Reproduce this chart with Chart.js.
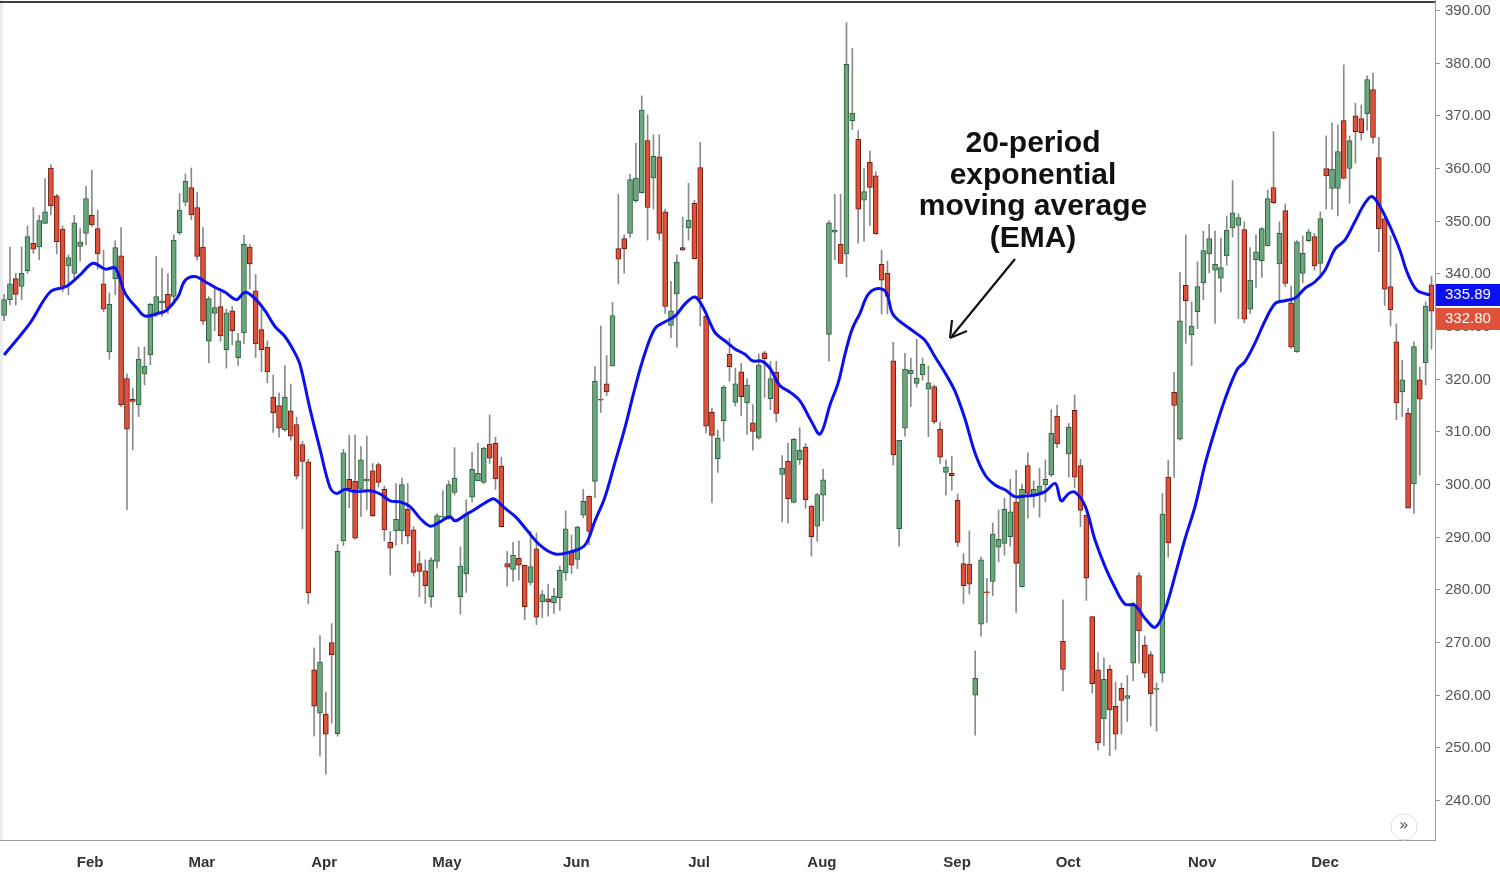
<!DOCTYPE html>
<html><head><meta charset="utf-8">
<script src="https://cdn.jsdelivr.net/npm/chart.js@4/dist/chart.umd.min.js"></script>
<style>html,body{margin:0;padding:0;background:#fff}#wrap{width:1500px;height:874px}</style>
</head><body><div id="wrap"><canvas id="c"></canvas></div>
<script>
const opens=[332,335,339,337.5,340.5,345.7,345,349.5,360,354.7,348.4,341.4,340,345.1,347.6,351,348.5,338,325.1,339,343.3,320,316.1,315,320.9,324.5,332.4,334.4,336,335.6,347.7,
353.5,356.3,352.5,345,327.1,332.4,333.7,325.5,332.9,324,328.7,345,336.7,329.3,326,316.5,314.9,310.3,313.9,311.3,307.5,304.2,264.7,256.5,256.3,269.9,252.6,289.2,300.9,300.5,
299,300.6,302.5,303.7,299,288.9,291.1,291.1,295.2,291.3,284.9,283.5,278.6,285.3,293.7,293.5,298.4,278.6,282.9,297.5,300.6,300.3,307.6,307.7,303.4,284.9,283.8,285.9,284.6,281.3,
287.7,277.6,278.2,277.4,278.4,283.1,287.1,285.7,294.1,297.7,300.5,316.1,319,322.4,344.7,346.6,347.6,353.8,355.3,365.2,358.1,362.1,351.7,330.1,336.1,344.9,348.6,353.3,360.1,331.9,
313.6,304.8,312,324.6,315.5,321.3,315.4,311.6,308.7,324.9,316.2,321.2,301.8,304.3,296.5,304.6,307,295.8,292,297.9,328.4,347.8,345.5,343.7,369,365.5,353.9,361.1,358.5,341.7,340,323.4,291.5,
310.6,320.9,319.1,320.7,318,318.5,310.4,302.2,302,296.9,284.9,284.8,259.9,273.4,279.5,281.5,288,288.7,290,296.6,280.5,303.5,297.7,298.4,299.8,301.7,312.9,270.1,305.7,
314,303.5,294.1,274.8,264.7,255.4,264.8,257.8,261.2,259.3,266,282.6,269.4,267.6,261,264.1,301.3,317.4,308.5,337.7,328.3,332.7,338.2,343.7,340.6,339.1,343.3,348.6,349.1,
348.3,333.2,342.6,342.4,345.2,356.3,341.8,351.9,334.4,325.1,340,346.2,347,341.9,359.9,356.1,356.1,369,359.9,369.9,369.4,370.3,374.9,362,350.4,337.5,327,317.5,313.4,300,319.8,323,337.8];
const highs=[336,345,340,345,349,352.5,351,358,360.6,355,349,343.5,351,348.5,356.5,359.6,352,344.4,336.3,346.2,348.7,320.9,318.2,326,326,334.3,343.2,341,339.9,347.3,355.2,
358.9,360,355.4,348.7,335.6,337.1,336.4,333.2,333.7,328.6,347.2,345.5,339.8,333.2,327.2,320.7,317.3,322.5,319,312.7,308.1,304.7,268.9,271.2,260.5,273.5,288.5,306.6,309.3,309.3,
307.1,309.1,303.9,304,299.6,291,300.1,301.1,300.1,291.9,287.2,285.6,286,294.4,298.7,300.6,306.9,288.1,297,306,307.7,307,313.1,308.9,305.1,287.2,288.9,289.2,284.6,291,
290.7,279.8,281,280.2,284.4,294.9,290.3,292,299,297.7,322.3,330,324.4,334.5,355,347.3,358.8,364.7,373.7,370.1,366.3,366.3,352.2,338.5,343.5,350.7,357.1,353.9,364.9,331.9,
314.4,310.2,318.7,327.7,322,322.9,320,315.1,324.7,325.2,323.3,323.3,305.4,307.7,308.7,310.7,307.7,295.9,298.2,302.8,350,355,355,387.6,382.7,367.1,359.9,363.2,359.3,344.4,342.3,326.9,308.3,
324.8,323.9,327.5,323.9,322.4,318.8,311.8,304.6,305.3,298.1,286.8,291.1,268.3,286.1,282.1,292.6,295.1,297.3,300.9,302.6,300,305.9,300.6,303,304.6,314.1,315,278,311.5,
316.9,304.7,294.1,274.8,268,267,265.6,262.4,262.2,263.6,277.6,283.2,271.1,268.2,262.2,298.2,304.5,321.2,340.2,347.3,334.6,342.2,348,349.3,348,346.7,350.9,357.6,351.3,
349.8,344.9,347.3,348.7,355.8,366.9,349.8,353.2,337.6,346.2,347.1,348.4,347.6,351.7,366.1,368.6,368.2,379.6,366.1,372.3,372,377.5,378,365.8,350.4,347.1,330.4,323.5,314.4,327,322.2,334.6,339.4];
const lows=[331,334,334,335,340,343.8,342.6,349.4,351.1,343.7,336.5,335.9,339,342.3,345.4,348.9,340.8,332.7,323.7,335.9,314.7,295.1,306.5,312.8,318.8,322.6,331.8,331.8,332.4,334.3,347.3,
352.8,350.2,342.5,330.3,323,329.1,327.1,322,326.4,322.5,326.6,337.1,324,321.3,319.2,309.8,308.9,310,308.3,300.9,291.5,277.3,252.1,248.3,244.9,254.6,252.1,288.3,295.5,289.5,
293.8,295.1,293.8,299.4,289.2,282.7,288.4,288.6,288.6,282.5,278.6,277.3,276.6,284,293.5,293.3,297.9,275.3,279.4,296.6,300.6,300.1,303.9,299,291.9,280.6,281.5,281.8,274.2,280.8,
273.3,274.6,274.9,275.4,276,281.7,283,283.9,293.6,288.5,297.4,313.6,316.8,322.4,338,340,346.8,353.5,355.2,346.3,352.2,346.3,332.4,327.8,326,344.4,346.3,342.7,330,309.7,
296.4,302.2,308.1,319.5,314.8,312.9,309.4,306.4,308.5,316.4,314.1,311.8,292.8,292.6,296.4,303.7,295.4,286.3,289.1,293,323.3,342.6,341.9,339.3,367.3,345.7,346.1,349.1,347.4,332.3,332.3,303.6,288.2,
309.1,314.7,318.4,319.7,309,311.4,303.9,297.9,298.8,288.1,277.3,279.1,252.3,271.1,273.7,278.8,285.2,286.5,288.2,275.6,280.4,293.5,295.6,293.7,296.6,301.4,306.9,260.7,301.3,
299.3,291.9,277.9,260.3,249.5,250.3,248.4,249.6,252.5,254.9,262.6,266,263.2,254,253.1,262.4,286.1,301.3,308.3,326.7,322.5,329.5,335,340.1,330.5,336.4,341.5,346.9,331.4,
330.6,332.4,337.3,339.2,345.2,353.2,334.6,337.5,325.8,325,338.2,346,340.6,339.5,352.2,352.2,350.9,358,353.3,360.9,365.3,367.2,364.7,344.1,333.9,330,312.2,312.8,295.4,294.4,301.7,318.8,325.6];
const closes=[335,338,336,340,347,344.6,350,351.7,352.8,346,337.5,343,349.6,345.9,354.2,349.2,343.7,333.2,334.1,344.9,315,310.4,315.7,323.7,322.4,334.1,335.6,334.8,333.4,346.3,352,
357.5,351.1,343.2,330.9,335.2,333.5,328.1,332.5,329.1,327.2,345.5,341.8,326.6,325.5,321.3,313.5,310.6,316.5,309.1,301.5,304.3,279.3,257.8,266.2,252.5,267.6,287.2,305.9,299.1,289.7,
304.6,300.9,294,300.3,291.3,287.8,293.3,299.9,290.1,283.2,283.4,280.7,285.6,294,293.9,299.9,301.1,284.4,294,302.8,302,306.8,304.9,301,291.9,284.2,286.5,284.6,276.7,284.3,
274.7,279,277.6,278.7,283.6,291.5,284.6,291.8,296.7,291,319.5,315.9,317.5,332,342.7,344.7,357.8,358.1,371,352.5,362.2,347.6,333.7,332.9,342.1,344.4,350.1,342.8,335.2,311,
309.2,308.7,318.4,322.3,319,316.6,318.8,310,322.6,323.8,320,313.4,303,297.2,308.5,306.4,297,290,298,300.8,349.6,348.2,341.9,379.7,370.4,352.2,355.5,356.3,347.5,338.7,335.6,305.5,308.3,
321.8,321.6,320.1,322.7,319.2,311.8,305.1,303.2,301.6,288.9,280.7,281,263.1,285.6,279.3,290.5,289.5,295.2,294.7,284.9,299,298.2,299,299.6,300.9,309.6,307.6,264.8,310.8,
301.3,295,282.1,262.1,250.9,262.9,257.1,252.5,258.9,259.8,276.9,272.1,264.1,260.2,261.2,294.3,288.8,314.9,331,334.8,330,337.5,344.3,346.6,341.7,341.1,348.2,351.5,350.6,
331.3,338.7,344.1,348.5,354.2,353.4,347.6,338.1,326,346,343.8,347.9,341.4,350.4,358.5,359.8,363.1,358,365.2,366.9,366.7,376.8,365.8,348.5,337,333.1,315.4,319.8,295.4,326.1,316.1,333.8,332.8];
const emaIdx=[0,4.4,7.9,10.6,13,15.2,17.3,19,20.7,22.7,24.1,26.7,27.7,29.7,30.9,32.6,34.4,36.1,37.8,39.7,41.2,42.9,44.6,46.3,48,49.7,50.6,52.3,54,55.7,56.8,58.3,59.7,60.9,62.6,64.3,66,67.7,69.4,71.1,72.8,74.5,76.2,77.1,78.8,80.5,83.1,83.9,85.6,87.4,89.1,91.6,94.2,96.8,99.3,101,102.7,104.4,106.2,107.9,109.6,111.3,113,114.7,116.4,118.1,119.5,121.5,123.2,125,126.7,127.9,129.6,130.9,132.6,134.4,136.1,137.8,139.5,141.2,142.6,143.8,145,146.3,147.7,149.4,150.8,152,155.2,157.4,159.1,160.9,162.6,164.3,166,167.7,169.4,171.1,172.8,174.5,176.2,177.9,179.7,180.7,182,183.1,184.8,186.5,188.2,189.9,191.6,193.3,195,196.8,198.5,200.2,201.9,203.6,205.3,207,208.7,210.8,212.1,213.8,215.6,217.3,219,220.7,222.4,224.1,225.8,227.5,229.2,230.9,232.6,233.8,235.2,236.9,238.6,239.8,241.5,243.8];
const emaVal=[324.5,330.5,336.5,337.5,339.7,341.9,340.8,341,336.2,333.4,331.9,332.5,332.9,335.5,338.6,339.4,338.4,337.3,336.4,335,336.4,335.2,332.9,329.9,328,324.9,322.6,314.2,306.6,299.4,298.2,299,298.6,298.6,298.7,298.1,296.8,296.6,295.7,293.5,292,292.8,293.8,293,294.1,295.2,297,297.1,295.4,293.8,291.6,288.4,286.7,287.1,288.4,293,297.5,304,311,318.5,325,329.6,330.8,331.9,334.2,335.5,333.5,328.8,327.2,325.6,324.6,323.4,323.3,322,318.7,317.4,315.7,312.3,309.5,315.1,319.3,324.9,329.5,332.4,336,337.1,336.4,332.1,329.2,327.3,324.2,321,317.5,312.2,305.8,301.7,299.8,298.9,297.6,297.7,297.9,298.5,300.1,296.8,298.2,298.4,295.8,289.3,284.3,280.3,277.2,277,274.5,272.8,276.3,282.8,289.7,295.8,303.8,310.3,316.1,321.8,323.2,326.7,331.1,334.3,334.8,335.3,337.2,338.4,340.6,344.6,346.3,349.8,353.3,354.6,352.7,348.9,344.4,340.3,336.8,335.9];
const monthLabels=['Feb','Mar','Apr','May','Jun','Jul','Aug','Sep','Oct','Nov','Dec'];
const monthPos=[14.7,33.8,54.7,75.7,97.8,118.8,139.8,162.9,181.9,204.8,225.8];
const yTicks=[240,250,260,270,280,290,300,310,320,330,340,350,360,370,380,390];
const emaLast=335.89, closeLast=332.80;
const annotation=['20-period','exponential','moving average','(EMA)'];

const UP='#6aa77c', UPB='#2e5f3c', DN='#e0513a', DNB='#6e1c10';
const bodies=opens.map((o,i)=>({x:i,y:[o,closes[i]]}));
const wicks=highs.map((h,i)=>({x:i,y:[lows[i],h]}));
const up=opens.map((o,i)=>closes[i]>=o);
const ema=emaIdx.map((x,i)=>({x:x,y:emaVal[i]}));
const FONT='"Liberation Sans", Arial, sans-serif';

const deco={id:'deco',
 beforeDraw(ch){const c=ch.ctx;c.save();c.fillStyle='#e9ecf0';c.fillRect(0,0,3,ch.chartArea.bottom);c.restore();},
 afterDraw(ch){
  const c=ch.ctx,a=ch.chartArea,y=ch.scales.y;c.save();
  c.strokeStyle='#000';c.lineWidth=1.5;c.beginPath();c.moveTo(0,2);c.lineTo(a.right,2);c.stroke();
  // y tick marks and labels
  c.strokeStyle='#999';c.lineWidth=1;c.font='15px '+FONT;c.fillStyle='#555';c.textAlign='left';c.textBaseline='middle';
  yTicks.forEach(v=>{const p=Math.round(y.getPixelForValue(v))+0.5;c.beginPath();c.moveTo(a.right,p);c.lineTo(a.right+5,p);c.stroke();c.fillText(v.toFixed(2),a.right+10,p);});
  c.font='bold 30px '+FONT;c.fillStyle='#111';c.textAlign='center';
  annotation.forEach((t,i)=>c.fillText(t,1033,144+i*31.5));
  c.strokeStyle='#111';c.lineWidth=2.2;c.beginPath();c.moveTo(1015,259);c.lineTo(952,336);c.stroke();
  c.beginPath();c.moveTo(950,338);c.lineTo(952,320);c.moveTo(950,338);c.lineTo(967,331);c.stroke();
  const yb=y.getPixelForValue(emaLast);
  c.fillStyle='#0a10f0';c.fillRect(a.right+1,yb-11,64,22);
  c.fillStyle='#e0513a';c.fillRect(a.right+1,yb+13,64,22);
  c.font='15px '+FONT;c.fillStyle='#fff';c.textAlign='left';
  c.fillText(emaLast.toFixed(2),a.right+10,yb);c.fillText(closeLast.toFixed(2),a.right+10,yb+24);
  c.strokeStyle='#ddd';c.lineWidth=1;c.beginPath();c.arc(1404,827,13,0,Math.PI*2);c.stroke();
  c.fillStyle='#555';c.font='16px "DejaVu Sans", sans-serif';c.textAlign='center';c.fillText('»',1404,826);
  c.restore();}};

new Chart(document.getElementById('c'),{
 data:{datasets:[
  {type:'line',data:ema,borderColor:'#0a10f0',borderWidth:3,pointRadius:0,tension:0.35,order:1},
  {type:'bar',data:bodies,backgroundColor:up.map(u=>u?UP:DN),borderColor:up.map(u=>u?UPB:DNB),borderWidth:1,borderSkipped:false,barThickness:5,grouped:false,order:2},
  {type:'bar',data:wicks,backgroundColor:'#8a8a8a',borderWidth:0,barThickness:1,grouped:false,order:3}
 ]},
 options:{responsive:true,maintainAspectRatio:false,animation:false,events:[],
  layout:{padding:0},
  plugins:{legend:{display:false},tooltip:{enabled:false}},
  scales:{
   x:{type:'linear',min:-0.7,max:244.6,offset:false,grid:{display:false},
      border:{color:'#999'},
      afterBuildTicks:s=>{s.ticks=monthPos.map(v=>({value:v}));},
      afterFit:s=>{s.height=34;},
      ticks:{autoSkip:false,maxRotation:0,color:'#333',font:{family:FONT,size:15,weight:'bold'},padding:6,
        callback:(v)=>{const k=monthPos.indexOf(v);return k>=0?monthLabels[k]:'';}}},
   y:{position:'right',min:232.4,max:391.9,grid:{display:false},border:{color:'#999'},
      afterFit:s=>{s.width=65;},
      ticks:{display:false}}
  }},
 plugins:[deco]});
</script></body></html>
